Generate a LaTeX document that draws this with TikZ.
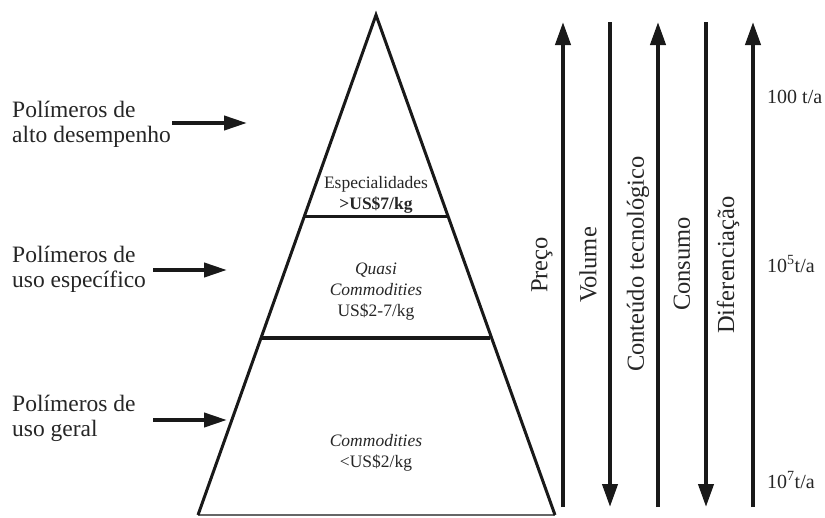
\documentclass[tikz,border=0pt]{standalone}
\usepackage{fontspec}
\setmainfont{Liberation Serif}
\usetikzlibrary{arrows.meta}
\begin{document}
\begin{tikzpicture}[x=1pt,y=-1pt,
  ink/.style={line width=3.5pt, draw=black!90},
  bigarrow/.style={ink, line width=4pt, -{Triangle[length=23pt,width=15pt]}},
  sidearrow/.style={ink, line width=4pt, -{Triangle[length=23pt,width=14pt]}},
  lbl/.style={font=\fontsize{23.5}{25}\selectfont, text=black!85, align=left, inner sep=0pt, anchor=west},
  vlbl/.style={font=\fontsize{24.5}{28}\selectfont, text=black!85, rotate=90, inner sep=0pt, anchor=center},
  pyr/.style={font=\fontsize{17.5}{21}\selectfont, text=black!85, align=center, inner sep=0pt, anchor=center},
  rlbl/.style={font=\fontsize{20}{24}\selectfont, text=black!85, inner sep=0pt, anchor=base west}]
\useasboundingbox (0,0) rectangle (825,517);

% pyramid
\coordinate (apex) at (376,15);
\coordinate (bl) at (198,515);
\coordinate (br) at (555,515);
\coordinate (l1) at (305,216);
\coordinate (r1) at (447,216);
\coordinate (l2) at (262,338);
\coordinate (r2) at (490,338);
\draw[draw=black!60, line width=1.5pt] (bl) -- (br);
\draw[ink, line width=3pt, line join=miter] (bl) -- (apex) -- (br);
\draw[ink, line width=3pt] (l1) -- (r1);
\draw[ink, line width=4pt] (l2) -- (r2);

% pyramid texts
\node[pyr] (esp) at (376,194.5) {Especialidades\\\textbf{>US\$7/kg}};
\node[pyr] (quasi) at (376,292) {\textit{Quasi}\\\textit{Commodities}\\US\$2-7/kg};
\node[pyr] (comm) at (376,453) {\textit{Commodities}\\<US\$2/kg};

% left labels and arrows
\node[lbl] (alto) at (12,124.7) {Polímeros de\\alto desempenho};
\node[lbl] (espec) at (12,269.7) {Polímeros de\\uso específico};
\node[lbl] (geral) at (12,418.7) {Polímeros de\\uso geral};
\coordinate (a1s) at (172,123); \coordinate (a1e) at (247,123);
\coordinate (a2s) at (153,270); \coordinate (a2e) at (227,270);
\coordinate (a3s) at (153,420); \coordinate (a3e) at (227,420);
\draw[sidearrow] (a1s) -- (a1e);
\draw[sidearrow] (a2s) -- (a2e);
\draw[sidearrow] (a3s) -- (a3e);

% vertical arrows
\foreach \n/\x in {p/563, v/610, c/658, s/706, d/753}{
  \coordinate (\n top) at (\x,22);
  \coordinate (\n bot) at (\x,507);
}
\draw[bigarrow] (pbot) -- (ptop);
\draw[bigarrow] (vtop) -- (vbot);
\draw[bigarrow] (cbot) -- (ctop);
\draw[bigarrow] (stop) -- (sbot);
\draw[bigarrow] (dbot) -- (dtop);

% vertical labels
\node[vlbl] (preco) at (542,265) {Preço};
\node[vlbl] (volume) at (588,265) {Volume};
\node[vlbl] (conteudo) at (638,264) {Conteúdo tecnológico};
\node[vlbl] (consumo) at (682,264) {Consumo};
\node[vlbl] (dif) at (728,265) {Diferenciação};

% right labels
\node[rlbl] (t100) at (767,103) {100 t/a};
\node[rlbl] (t105) at (767,272) {10\textsuperscript{5}t/a};
\node[rlbl] (t107) at (767,488) {10\textsuperscript{7}t/a};
\end{tikzpicture}
\end{document}
